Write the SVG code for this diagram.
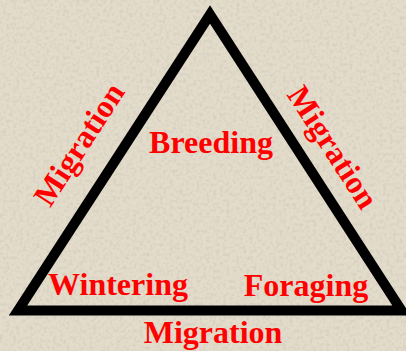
<svg xmlns="http://www.w3.org/2000/svg" width="406" height="351" viewBox="0 0 406 351">
  <defs>
    <filter id="grain" x="0" y="0" width="100%" height="100%">
      <feTurbulence type="fractalNoise" baseFrequency="0.3" numOctaves="2" seed="7" result="n"/>
      <feColorMatrix in="n" type="matrix" values="0 0 0 0 0.45  0 0 0 0 0.42  0 0 0 0 0.36  0 0 0 -2.2 1.25" result="a"/>
      <feComposite in="a" in2="SourceGraphic" operator="in"/>
    </filter>
    <style>
      .lbl { font-family: "Liberation Serif", "Times New Roman", serif; font-weight: bold; font-size: 32px; fill: #ff0000; }
      .edge { fill: none; stroke: #000000; stroke-width: 10; stroke-linejoin: miter; stroke-miterlimit: 10; }
    </style>
  </defs>
  <rect id="background" x="0" y="0" width="406" height="351" fill="#e3dccb"/>
  <rect x="0" y="0" width="406" height="351" fill="#e3dccb" filter="url(#grain)" opacity="0.3"/>

  <g id="connectors">
    <polygon class="edge" points="18,310.5 210,14.5 401.5,310.5"/>
    <text class="lbl" text-anchor="middle" transform="translate(88,150) rotate(-57)">Migration</text>
    <text class="lbl" text-anchor="middle" transform="translate(324,153) rotate(57)">Migration</text>
    <text class="lbl" x="213" y="343" text-anchor="middle">Migration</text>
  </g>

  <g id="node-breeding">
    <text class="lbl" x="211" y="153" text-anchor="middle">Breeding</text>
  </g>
  <g id="node-wintering">
    <text class="lbl" x="118" y="295" text-anchor="middle">Wintering</text>
  </g>
  <g id="node-foraging">
    <text class="lbl" x="306" y="296" text-anchor="middle">Foraging</text>
  </g>
</svg>
